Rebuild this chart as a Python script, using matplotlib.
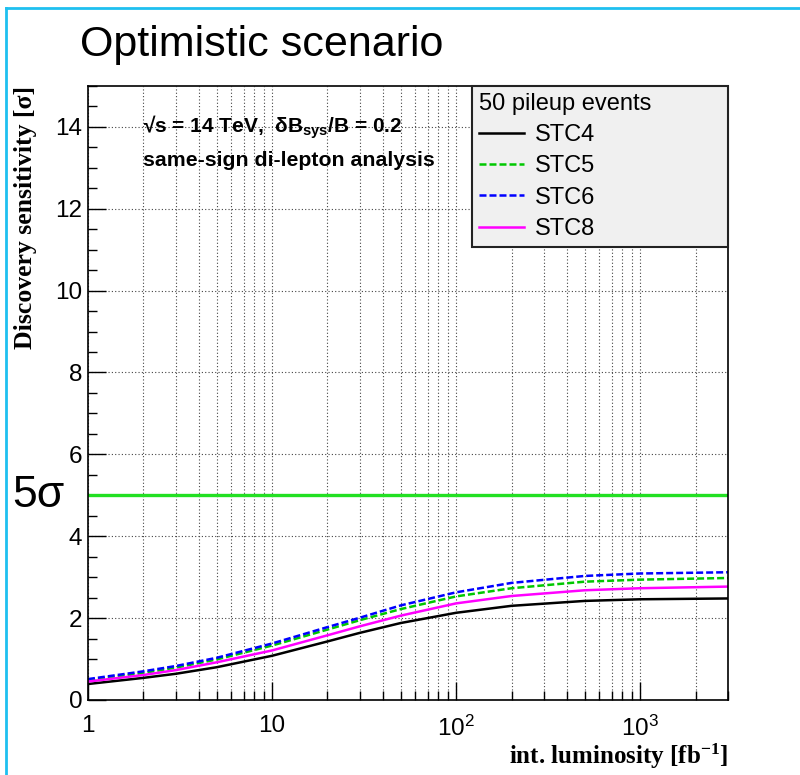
import numpy as np
import matplotlib
matplotlib.use('Agg')
import matplotlib.pyplot as plt
from matplotlib.lines import Line2D
from matplotlib.transforms import blended_transform_factory
from matplotlib.ticker import LogLocator, MultipleLocator, FuncFormatter

plt.rcParams['font.family'] = ['Liberation Sans', 'DejaVu Sans']
plt.rcParams['mathtext.default'] = 'regular'

# integrated luminosity [fb^-1] and discovery sensitivity per detector option
lumi = [1, 2, 3, 5, 10, 20, 30, 50, 100, 200, 500, 1000, 3000]
stc4 = [0.39, 0.54, 0.64, 0.80, 1.08, 1.43, 1.64, 1.88, 2.13, 2.30, 2.42, 2.46, 2.48]
stc5 = [0.48, 0.66, 0.79, 0.99, 1.33, 1.72, 1.95, 2.22, 2.53, 2.73, 2.89, 2.94, 2.98]
stc6 = [0.51, 0.70, 0.83, 1.03, 1.38, 1.78, 2.01, 2.31, 2.63, 2.86, 3.03, 3.09, 3.12]
stc8 = [0.45, 0.61, 0.73, 0.92, 1.21, 1.58, 1.80, 2.06, 2.36, 2.54, 2.68, 2.73, 2.77]
discovery = 5

xtick_labels = {1: '1', 10: '10', 100: '$10^2$', 1000: '$10^3$'}

fig = plt.figure(figsize=(8, 7.75), dpi=100)
ax = fig.add_axes([0.11, 0.0968, 0.8, 0.7923])

ax.set_xscale('log')
ax.set_xlim(1, 3000)
ax.set_ylim(0, 15)

dots = (0, (1, 2))
ax.grid(which='major', axis='both', ls=dots, lw=0.8, color='#444444')
ax.grid(which='minor', axis='x', ls=dots, lw=0.8, color='#444444')

ax.yaxis.set_major_locator(MultipleLocator(2))
ax.yaxis.set_minor_locator(MultipleLocator(0.5))
ax.xaxis.set_major_locator(LogLocator(base=10))
ax.xaxis.set_minor_locator(LogLocator(base=10, subs=np.arange(2, 10)))
ax.xaxis.set_major_formatter(FuncFormatter(lambda v, p: xtick_labels.get(int(round(v)), '')))
ax.xaxis.set_minor_formatter(FuncFormatter(lambda v, p: ''))

ax.tick_params(which='both', direction='in', top=False, right=False, width=1, labelsize=17.5)
ax.tick_params(which='major', length=13)
ax.tick_params(which='minor', length=6.5)
ax.tick_params(axis='x', pad=11)
ax.tick_params(axis='y', pad=4)
for sp in ax.spines.values():
    sp.set_linewidth(1.2)

ax.axhline(discovery, color='#22e022', lw=2.4)

dash = (0, (2.8, 1.2))
l4, = ax.plot(lumi, stc4, color='black', lw=1.8)
l5, = ax.plot(lumi, stc5, color='#00c800', lw=1.8, ls=dash)
l6, = ax.plot(lumi, stc6, color='#0000ff', lw=1.8, ls=dash)
l8, = ax.plot(lumi, stc8, color='#ff00ff', lw=1.8)

leg = ax.legend([l4, l5, l6, l8], ['STC4', 'STC5', 'STC6', 'STC8'],
                title='50 pileup events', loc='upper left',
                bbox_to_anchor=(0.6, 1.0, 0.4, 0), mode='expand', borderaxespad=0,
                fancybox=False, framealpha=1, facecolor='#f0f0f0', edgecolor='#222222',
                fontsize=17, title_fontsize=17, handlelength=1.9, handletextpad=0.45,
                labelspacing=0.39, borderpad=0.3, alignment='left')
leg.get_frame().set_linewidth(1.5)

mixed = blended_transform_factory(ax.transAxes, ax.transData)
ax.text(0.086, 14.0, '√s = 14 TeV,  δB$_{sys}$/B = 0.2', transform=mixed,
        fontsize=15, fontweight='bold', va='center', ha='left')
ax.text(0.086, 13.17, 'same-sign di-lepton analysis', transform=mixed,
        fontsize=15.3, fontweight='bold', va='center', ha='left')

ax.text(-0.119, discovery, '5σ', transform=mixed, fontsize=32, va='center', ha='left')

ax.set_ylabel('Discovery sensitivity [σ]', family='Liberation Serif', fontweight='bold', fontsize=18.5, loc='top')
ax.yaxis.set_label_coords(-0.08, 1.0)
ax.set_xlabel('int. luminosity [fb$^{-1}$]', family='Liberation Serif', fontweight='bold', fontsize=18, loc='right')
ax.xaxis.set_label_coords(1.0, -0.068)

fig.text(0.1, 0.942, 'Optimistic scenario', fontsize=31, va='center', ha='left')

# frame around the canvas
fig.add_artist(Line2D([0.0075, 0.0075], [0, 0.99], transform=fig.transFigure, color='#1ec0f0', lw=2))
fig.add_artist(Line2D([0.0075, 1], [0.99, 0.99], transform=fig.transFigure, color='#1ec0f0', lw=2))

fig.savefig('out.png', dpi=100)
